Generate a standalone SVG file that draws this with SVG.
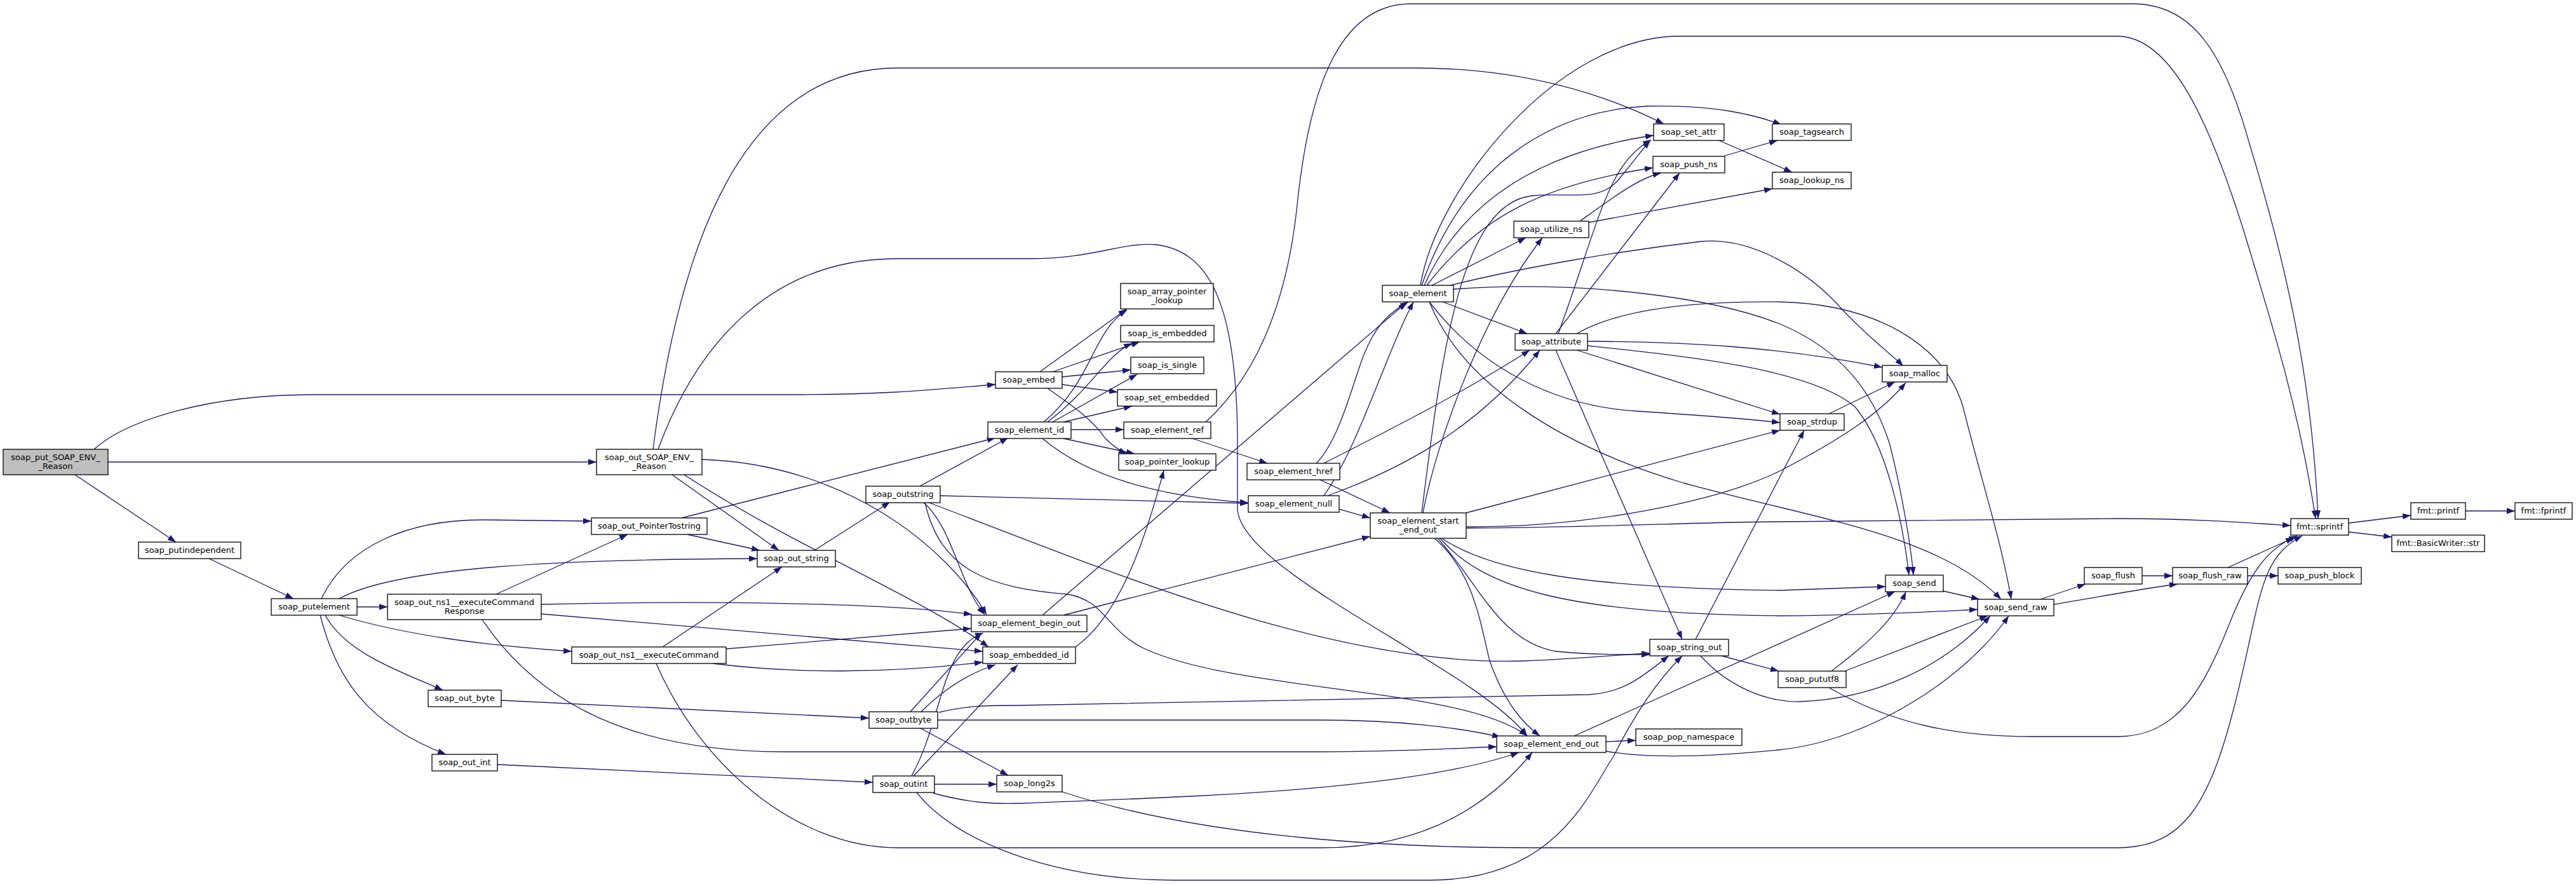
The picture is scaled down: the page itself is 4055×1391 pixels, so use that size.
<svg xmlns="http://www.w3.org/2000/svg" width="4055" height="1391" viewBox="0 0 4055 1391">
<defs>
<marker id="a" viewBox="0 0 13 10" refX="13" refY="5" markerWidth="13" markerHeight="10" orient="auto" markerUnits="userSpaceOnUse"><path d="M0,0.3L13,5L0,9.7z" fill="#191970"/></marker>
</defs>
<style>
.n rect{fill:#fff;stroke:#000;stroke-width:1.3}
.n.g rect{fill:#bfbfbf}
.n text{font-family:"DejaVu Sans","Liberation Sans",Arial,sans-serif;font-size:13px;text-anchor:middle;fill:#000}
.e path{fill:none;stroke:#191970;stroke-width:1.3;marker-end:url(#a)}
</style>
<rect x="0" y="0" width="4055" height="1391" fill="#fff"/>
<g id="edges" class="e">
<path d="M148,707 C200,660 330,621 494,621 L1255,621 C1400,621 1480,612 1567,605"/>
<path d="M170,727 L939,727"/>
<path d="M118,747 L277,853"/>
<path d="M329,879 L462,942"/>
<path d="M562,955 L610,955"/>
<path d="M506,942 C545,860 640,818 760,818 L931,820"/>
<path d="M534,942 C620,895 850,880 1192,879"/>
<path d="M534,968 C640,1000 760,1015 900,1025"/>
<path d="M512,968 C545,1030 640,1060 697,1086"/>
<path d="M504,968 C530,1070 580,1140 702,1187"/>
<path d="M789,1102 L1368,1130"/>
<path d="M783,1203 L1374,1231"/>
<path d="M781,935 L988,841"/>
<path d="M852,951 C1100,945 1400,948 1530,967"/>
<path d="M852,966 L1547,1025"/>
<path d="M759,975 C850,1110 1000,1183 1236,1183 L2080,1183 C2200,1183 2280,1178 2356,1175"/>
<path d="M1043,1018 L1231,892"/>
<path d="M1143,1021 L1529,989"/>
<path d="M1122,1044 C1250,1060 1400,1060 1547,1042"/>
<path d="M1033,1044 C1100,1200 1250,1334 1414,1334 L2080,1334 C2250,1334 2350,1260 2412,1184"/>
<path d="M1058,747 L1226,866"/>
<path d="M1077,747 C1250,860 1450,940 1556,1018"/>
<path d="M1105,723 C1330,730 1490,860 1553,967"/>
<path d="M1028,707 C1070,380 1170,107 1413,107 L2229,107 C2400,107 2530,150 2619,195"/>
<path d="M1036,707 C1090,560 1200,407 1413,407 L1624,407 C1720,407 1770,380 1820,385 C1900,395 1948,470 1948,700 L1948,800 C1950,900 2320,1050 2404,1158"/>
<path d="M1073,815 L1567,689"/>
<path d="M1082,841 L1196,866"/>
<path d="M1282,866 L1401,790"/>
<path d="M1448,765 L1587,689"/>
<path d="M1480,780 L1965,792"/>
<path d="M1453,790 C1500,830 1510,920 1550,967"/>
<path d="M1460,790 C1750,900 2100,1050 2400,1040 C2480,1037 2550,1030 2597,1028"/>
<path d="M1456,790 C1480,900 1560,925 1680,935 C1740,945 1740,990 1800,1020 C1950,1090 2300,1080 2404,1158"/>
<path d="M1433,1120 L1545,996"/>
<path d="M1450,1120 C1490,1080 1530,1058 1567,1046"/>
<path d="M1478,1121 C1520,1110 1560,1110 1600,1110 L2500,1093 C2560,1090 2590,1060 2627,1032"/>
<path d="M1476,1133 L2080,1133 C2200,1133 2300,1145 2362,1160"/>
<path d="M1449,1146 L1587,1220"/>
<path d="M1435,1221 C1485,1130 1480,1020 1548,996"/>
<path d="M1438,1221 L1602,1046"/>
<path d="M1471,1234 L1569,1234"/>
<path d="M1469,1248 C1520,1262 1560,1266 1610,1264 C1800,1255 2200,1250 2391,1184"/>
<path d="M1443,1247 C1500,1320 1650,1385 1850,1385 L2250,1385 C2450,1385 2500,1250 2540,1190 C2580,1110 2620,1060 2648,1032"/>
<path d="M1672,1246 C1900,1320 2200,1334 2412,1334 L3333,1334 C3440,1334 3480,1260 3520,1100 C3560,940 3555,880 3624,843"/>
<path d="M1637,585 L1774,486"/>
<path d="M1657,585 L1794,538"/>
<path d="M1672,593 L1780,582"/>
<path d="M1672,605 L1759,617"/>
<path d="M1649,611 C1690,640 1720,660 1740,690 C1755,705 1765,710 1774,714"/>
<path d="M1643,664 C1720,600 1720,520 1774,488"/>
<path d="M1649,664 C1720,610 1740,560 1782,540"/>
<path d="M1657,664 L1790,589"/>
<path d="M1674,664 L1782,639"/>
<path d="M1686,676 L1769,676"/>
<path d="M1674,690 L1786,714"/>
<path d="M1641,690 C1700,740 1800,780 1965,791"/>
<path d="M1877,690 L1995,729"/>
<path d="M1898,664 C1990,580 2030,450 2043,312 C2060,160 2100,6 2221,6 L3357,6 C3450,6 3500,80 3540,223 C3600,420 3640,600 3649,816"/>
<path d="M1693,1018 C1760,970 1800,860 1832,740"/>
<path d="M2072,729 C2110,690 2130,600 2147,558 C2170,500 2200,485 2217,475"/>
<path d="M2084,729 C2180,680 2300,620 2408,551"/>
<path d="M2076,754 L2188,807"/>
<path d="M2084,780 C2140,700 2180,560 2225,475"/>
<path d="M2090,780 C2200,740 2320,680 2424,551"/>
<path d="M2108,801 L2157,815"/>
<path d="M1641,968 L2214,476"/>
<path d="M1674,968 L2157,844"/>
<path d="M2254,449 L2402,374"/>
<path d="M2487,348 C2540,310 2580,280 2615,272"/>
<path d="M2501,350 L2790,297"/>
<path d="M2271,475 L2404,525"/>
<path d="M2449,525 L2644,272"/>
<path d="M2453,525 C2520,340 2530,260 2599,220"/>
<path d="M2242,449 C2300,320 2420,240 2603,213"/>
<path d="M2246,449 C2330,340 2430,290 2602,264"/>
<path d="M2238,449 C2300,270 2430,175 2594,167 C2700,165 2760,180 2804,196"/>
<path d="M2236,449 C2260,300 2450,57 2644,57 L3333,57 C3420,57 3480,200 3530,357 C3580,520 3620,650 3645,816"/>
<path d="M2706,221 L2821,271"/>
<path d="M2715,245 L2798,221"/>
<path d="M2283,449 C2400,420 2550,395 2677,380 C2760,372 2850,430 2900,487 C2940,530 2980,560 2996,576"/>
<path d="M2288,455 C2500,440 2700,470 2800,509 C2900,550 2950,620 2975,700 C2995,780 3008,860 3012,905"/>
<path d="M2499,544 C2650,560 2850,580 2920,640 C2970,700 2995,820 3005,905"/>
<path d="M2482,525 C2560,480 2700,474 2800,475 C2950,478 3060,540 3090,640 C3120,760 3150,850 3166,943"/>
<path d="M2250,475 C2300,600 2450,700 2650,760 C2850,815 3050,840 3150,943"/>
<path d="M2250,475 C2330,580 2450,640 2578,647 C2700,655 2760,660 2802,665"/>
<path d="M2482,551 L2802,652"/>
<path d="M2499,537 C2650,538 2800,545 2963,578"/>
<path d="M2449,551 L2648,1006"/>
<path d="M2879,651 L2983,601"/>
<path d="M2308,807 L2802,677"/>
<path d="M2308,829 C2500,830 2700,790 2800,742 C2900,690 2960,650 3000,602"/>
<path d="M2308,831 C2500,830 2700,821 2800,821 L3333,816 C3450,816 3530,822 3606,827"/>
<path d="M2263,847 C2330,920 2360,1010 2450,1025 C2500,1030 2550,1030 2597,1030"/>
<path d="M2271,848 C2350,900 2500,925 2800,929 L2968,923"/>
<path d="M2267,847 C2330,920 2450,966 2800,969 C2950,968 3050,962 3113,959"/>
<path d="M2258,847 C2320,900 2330,980 2345,1040 C2370,1110 2400,1140 2424,1158"/>
<path d="M2240,807 C2260,700 2330,500 2428,374"/>
<path d="M2238,807 C2270,550 2300,320 2412,308 C2470,302 2520,320 2550,280 C2575,250 2585,235 2598,221"/>
<path d="M2528,1167 L2575,1165"/>
<path d="M2478,1158 L2983,931"/>
<path d="M2528,1182 C2600,1195 2700,1190 2800,1180 C2950,1165 3100,1060 3162,969"/>
<path d="M2669,1006 L2840,677"/>
<path d="M2710,1032 L2800,1056"/>
<path d="M2677,1032 C2720,1080 2780,1105 2833,1104 C2950,1100 3060,1050 3133,969"/>
<path d="M2883,1056 C2930,1020 2980,980 3000,931"/>
<path d="M2904,1056 L3129,969"/>
<path d="M2879,1082 C2980,1140 3080,1159 3200,1159 L3333,1159 C3430,1159 3470,1080 3510,980 C3550,880 3580,860 3616,843"/>
<path d="M3059,930 L3116,943"/>
<path d="M3212,943 L3283,919"/>
<path d="M3233,951 C3300,940 3380,925 3428,919"/>
<path d="M3372,906 L3420,906"/>
<path d="M3538,906 L3586,906"/>
<path d="M3507,893 L3611,846"/>
<path d="M3697,823 L3795,811"/>
<path d="M3697,837 L3765,845"/>
<path d="M3881,804 L3959,804"/>
</g>
<g id="n_put" class="n g"><rect x="5" y="707" width="165" height="40"/><text x="87.5" y="723.5">soap_put_SOAP_ENV_</text><text x="87.5" y="738">_Reason</text></g>
<g id="n_putindependent" class="n"><rect x="218" y="853" width="161" height="26"/><text x="298.5" y="869.5">soap_putindependent</text></g>
<g id="n_putelement" class="n"><rect x="427" y="942" width="135" height="26"/><text x="494.5" y="958.5">soap_putelement</text></g>
<g id="n_execResp" class="n"><rect x="610" y="935" width="242" height="40"/><text x="731" y="951.5">soap_out_ns1__executeCommand</text><text x="731" y="966">Response</text></g>
<g id="n_out_byte" class="n"><rect x="674" y="1086" width="115" height="26"/><text x="731.5" y="1102.5">soap_out_byte</text></g>
<g id="n_out_int" class="n"><rect x="680" y="1187" width="103" height="26"/><text x="731.5" y="1203.5">soap_out_int</text></g>
<g id="n_out_reason" class="n"><rect x="939" y="707" width="166" height="40"/><text x="1022" y="723.5">soap_out_SOAP_ENV_</text><text x="1022" y="738">_Reason</text></g>
<g id="n_ptrtostring" class="n"><rect x="931" y="815" width="182" height="26"/><text x="1022" y="831.5">soap_out_PointerTostring</text></g>
<g id="n_execCmd" class="n"><rect x="900" y="1018" width="243" height="26"/><text x="1021.5" y="1034.5">soap_out_ns1__executeCommand</text></g>
<g id="n_out_string" class="n"><rect x="1192" y="866" width="123" height="26"/><text x="1253.5" y="882.5">soap_out_string</text></g>
<g id="n_outstring" class="n"><rect x="1363" y="765" width="117" height="26"/><text x="1421.5" y="781.5">soap_outstring</text></g>
<g id="n_outbyte" class="n"><rect x="1368" y="1120" width="108" height="26"/><text x="1422" y="1136.5">soap_outbyte</text></g>
<g id="n_outint" class="n"><rect x="1374" y="1221" width="97" height="26"/><text x="1422.5" y="1237.5">soap_outint</text></g>
<g id="n_embed" class="n"><rect x="1567" y="585" width="105" height="26"/><text x="1619.5" y="601.5">soap_embed</text></g>
<g id="n_element_id" class="n"><rect x="1555" y="664" width="131" height="26"/><text x="1620.5" y="680.5">soap_element_id</text></g>
<g id="n_begin_out" class="n"><rect x="1529" y="968" width="182" height="26"/><text x="1620" y="984.5">soap_element_begin_out</text></g>
<g id="n_embedded_id" class="n"><rect x="1547" y="1018" width="146" height="26"/><text x="1620" y="1034.5">soap_embedded_id</text></g>
<g id="n_long2s" class="n"><rect x="1569" y="1220" width="103" height="26"/><text x="1620.5" y="1236.5">soap_long2s</text></g>
<g id="n_array_ptr" class="n"><rect x="1764" y="446" width="146" height="40"/><text x="1837" y="462.5">soap_array_pointer</text><text x="1837" y="477">_lookup</text></g>
<g id="n_is_embedded" class="n"><rect x="1764" y="512" width="147" height="26"/><text x="1837.5" y="528.5">soap_is_embedded</text></g>
<g id="n_is_single" class="n"><rect x="1780" y="562" width="115" height="26"/><text x="1837.5" y="578.5">soap_is_single</text></g>
<g id="n_set_embedded" class="n"><rect x="1759" y="613" width="156" height="26"/><text x="1837" y="629.5">soap_set_embedded</text></g>
<g id="n_element_ref" class="n"><rect x="1769" y="664" width="137" height="26"/><text x="1837.5" y="680.5">soap_element_ref</text></g>
<g id="n_pointer_lookup" class="n"><rect x="1761" y="714" width="153" height="26"/><text x="1837.5" y="730.5">soap_pointer_lookup</text></g>
<g id="n_href" class="n"><rect x="1963" y="729" width="146" height="26"/><text x="2036" y="745.5">soap_element_href</text></g>
<g id="n_null" class="n"><rect x="1965" y="780" width="143" height="26"/><text x="2036.5" y="796.5">soap_element_null</text></g>
<g id="n_element" class="n"><rect x="2176" y="449" width="112" height="26"/><text x="2232" y="465.5">soap_element</text></g>
<g id="n_start_end" class="n"><rect x="2157" y="807" width="151" height="40"/><text x="2232.5" y="823.5">soap_element_start</text><text x="2232.5" y="838">_end_out</text></g>
<g id="n_utilize" class="n"><rect x="2383" y="348" width="118" height="26"/><text x="2442" y="364.5">soap_utilize_ns</text></g>
<g id="n_attribute" class="n"><rect x="2385" y="525" width="114" height="26"/><text x="2442" y="541.5">soap_attribute</text></g>
<g id="n_end_out" class="n"><rect x="2356" y="1158" width="172" height="26"/><text x="2442" y="1174.5">soap_element_end_out</text></g>
<g id="n_set_attr" class="n"><rect x="2603" y="195" width="111" height="26"/><text x="2658.5" y="211.5">soap_set_attr</text></g>
<g id="n_push_ns" class="n"><rect x="2602" y="246" width="113" height="26"/><text x="2658.5" y="262.5">soap_push_ns</text></g>
<g id="n_string_out" class="n"><rect x="2597" y="1006" width="124" height="26"/><text x="2659" y="1022.5">soap_string_out</text></g>
<g id="n_pop_ns" class="n"><rect x="2575" y="1147" width="167" height="26"/><text x="2658.5" y="1163.5">soap_pop_namespace</text></g>
<g id="n_tagsearch" class="n"><rect x="2790" y="195" width="124" height="26"/><text x="2852" y="211.5">soap_tagsearch</text></g>
<g id="n_lookup_ns" class="n"><rect x="2790" y="271" width="124" height="26"/><text x="2852" y="287.5">soap_lookup_ns</text></g>
<g id="n_malloc" class="n"><rect x="2963" y="575" width="102" height="26"/><text x="3014" y="591.5">soap_malloc</text></g>
<g id="n_strdup" class="n"><rect x="2802" y="651" width="101" height="26"/><text x="2852.5" y="667.5">soap_strdup</text></g>
<g id="n_send" class="n"><rect x="2968" y="905" width="91" height="26"/><text x="3013.5" y="921.5">soap_send</text></g>
<g id="n_pututf8" class="n"><rect x="2799" y="1056" width="107" height="26"/><text x="2852.5" y="1072.5">soap_pututf8</text></g>
<g id="n_send_raw" class="n"><rect x="3113" y="943" width="120" height="26"/><text x="3173" y="959.5">soap_send_raw</text></g>
<g id="n_flush" class="n"><rect x="3281" y="893" width="91" height="26"/><text x="3326.5" y="909.5">soap_flush</text></g>
<g id="n_flush_raw" class="n"><rect x="3420" y="893" width="118" height="26"/><text x="3479" y="909.5">soap_flush_raw</text></g>
<g id="n_push_block" class="n"><rect x="3586" y="893" width="131" height="26"/><text x="3651.5" y="909.5">soap_push_block</text></g>
<g id="n_sprintf" class="n"><rect x="3606" y="816" width="91" height="26"/><text x="3651.5" y="832.5">fmt::sprintf</text></g>
<g id="n_printf" class="n"><rect x="3795" y="791" width="86" height="26"/><text x="3838" y="807.5">fmt::printf</text></g>
<g id="n_fprintf" class="n"><rect x="3959" y="791" width="90" height="26"/><text x="4004" y="807.5">fmt::fprintf</text></g>
<g id="n_bwstr" class="n"><rect x="3765" y="842" width="146" height="26"/><text x="3838" y="858.5">fmt::BasicWriter::str</text></g>
</svg>
